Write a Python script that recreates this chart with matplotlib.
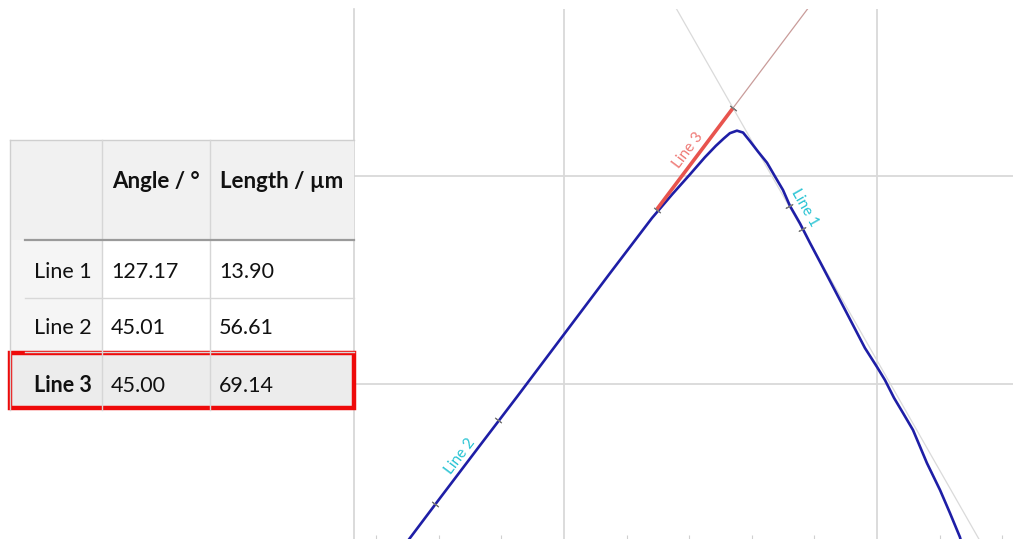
import numpy as np
import matplotlib
matplotlib.use("Agg")
import matplotlib.pyplot as plt
from matplotlib.patches import Rectangle

# ---- measurement table ----
line_names = ["Line 1", "Line 2", "Line 3"]
angles_deg = [127.17, 45.01, 45.00]
lengths_um = [13.90, 56.61, 69.14]
col_headers = ["Angle / °", "Length / µm"]

# ---- profile (x, z in µm) ----
profile_x = [299.0, 320.8, 346.3, 370.0, 400.0, 429.4, 456.2, 469.0, 480.5, 490.0,
             497.0, 502.0, 506.0, 510.5, 514.4, 518.8, 524.0, 529.7, 534.8, 539.9,
             544.4, 550.8, 557.2, 563.6, 573.2, 582.7, 592.3, 600.0, 605.1, 610.9,
             616.6, 623.0, 631.9, 640.3, 646.6, 653.0, 654.3]
profile_z = [23.4, 45.2, 70.5, 93.9, 123.9, 153.3, 179.8, 191.1, 200.8, 209.0,
             214.5, 218.0, 220.6, 221.8, 220.9, 216.8, 211.7, 206.4, 199.8, 193.3,
             185.6, 177.2, 167.8, 158.7, 144.9, 131.2, 117.3, 108.2, 101.9, 93.3,
             86.1, 77.9, 62.0, 49.0, 38.0, 26.4, 22.6]

# intersection point of the fitted lines and where each fitted segment starts
vertex = (508.0, 232.7)
segment_start = [59.2, 212.4, 0.0]   # distance from vertex along the line, µm

grid_x = [400, 600]
grid_z = [100, 200]
minor_x = [280, 320, 360, 440, 480, 520, 560, 640, 680]

W, H = 1013, 539
fig = plt.figure(figsize=(W / 100, H / 100), dpi=100)
fig.patch.set_facecolor("white")

# ---------------- profile panel ----------------
ax = fig.add_axes([354 / W, 0, (W - 354) / W, (H - 9) / H])
ax.set_xlim(265.8, 686.9)
ax.set_ylim(25.5, 280.3)
ax.set_facecolor("white")
for s in ["top", "right", "bottom"]:
    ax.spines[s].set_visible(False)
ax.spines["left"].set_color("#d4d4d4")
ax.spines["left"].set_linewidth(1.2)
ax.set_xticks(grid_x)
ax.set_yticks(grid_z)
ax.set_xticks(minor_x, minor=True)
ax.tick_params(which="major", length=0, labelbottom=False, labelleft=False)
ax.tick_params(which="minor", axis="x", direction="in", length=3, color="#d0d0d0", width=0.8)
ax.grid(True, which="major", color="#d9d9d9", linewidth=1.3)
ax.set_axisbelow(True)

fig.canvas.draw()


def disp_angle(theta):
    d = np.array([np.cos(np.radians(theta)), np.sin(np.radians(theta))])
    p0 = ax.transData.transform(vertex)
    p1 = ax.transData.transform(np.array(vertex) + d)
    return np.degrees(np.arctan2(p1[1] - p0[1], p1[0] - p0[0]))


def along(theta, s):
    d = np.array([np.cos(np.radians(theta)), np.sin(np.radians(theta))])
    return np.array(vertex) - s * d


# extended fitted lines
p = np.array([along(angles_deg[0], s) for s in [-200, 400]])
ax.plot(p[:, 0], p[:, 1], color="#dadada", lw=0.9, zorder=2)
p = np.array([along(angles_deg[2], s) for s in [-200, 0]])
ax.plot(p[:, 0], p[:, 1], color="#c99c9a", lw=0.9, zorder=2)

# measured profile
ax.plot(profile_x, profile_z, color="#1e1ea6", lw=1.9, zorder=3,
        solid_joinstyle="round", solid_capstyle="round")

# fitted segments with end ticks
seg_colors = [None, None, "#e8544e"]
for i in range(3):
    a = angles_deg[i]
    s0 = segment_start[i]
    s1 = s0 + lengths_um[i]
    q = np.array([along(a, s0), along(a, s1)])
    if seg_colors[i]:
        ax.plot(q[:, 0], q[:, 1], color=seg_colors[i], lw=2.6, zorder=4,
                solid_capstyle="butt")
    rot = disp_angle(a)
    for pt in q:
        ax.plot(pt[0], pt[1], marker=(2, 2, rot), ms=6, mew=0.8,
                color="#7a7a7a", zorder=5)

label_pos = [(553.5, 184.6), (333.5, 65.4), (479.2, 212.5)]
label_colors = ["#27c3d3", "#27c3d3", "#ef7a76"]
for i in range(3):
    rot = disp_angle(angles_deg[i])
    if rot > 90:
        rot -= 180
    if rot < -90:
        rot += 180
    ax.text(label_pos[i][0], label_pos[i][1], line_names[i], color=label_colors[i],
            fontsize=11, rotation=rot, rotation_mode="anchor",
            ha="center", va="center", zorder=6, family=["Lato", "DejaVu Sans"])

# ---------------- table ----------------
tb = fig.add_axes([0, 0, 1, 1], zorder=5)
tb.set_xlim(0, W)
tb.set_ylim(H, 0)
tb.axis("off")
tb.patch.set_alpha(0)

x0, x1, x2, x3 = 10, 102, 210, 354
row_edges = [140, 240, 298, 352, 410]
fam = ["Lato", "DejaVu Sans"]

# header row and row-header column backgrounds
tb.add_patch(Rectangle((x0, row_edges[0]), x3 - x0, row_edges[1] - row_edges[0],
                       facecolor="#f1f1f1", edgecolor="none"))
tb.add_patch(Rectangle((x0, row_edges[1]), x1 - x0, row_edges[4] - row_edges[1],
                       facecolor="#f5f5f5", edgecolor="none"))
tb.add_patch(Rectangle((x0, row_edges[3]), x3 - x0, row_edges[4] - row_edges[3],
                       facecolor="#ececec", edgecolor="none"))

# frame and dividers
tb.plot([x0, x3], [row_edges[0]] * 2, color="#cfcfcf", lw=1.0)
tb.plot([x0, x0], [row_edges[0], row_edges[4]], color="#cfcfcf", lw=1.0)
for xv in [x1, x2]:
    tb.plot([xv, xv], [row_edges[0], row_edges[4]], color="#d6d6d6", lw=1.0)
tb.plot([25, x3], [row_edges[1]] * 2, color="#9a9a9a", lw=1.6)
for yv in row_edges[2:4]:
    tb.plot([25, x3], [yv, yv], color="#d8d8d8", lw=1.0)

# text
fs = 15.5
tb.text(112, 182, col_headers[0], fontsize=fs + 0.5, fontweight="bold",
        ha="left", va="center", color="#111111", family=fam)
tb.text(220, 182, col_headers[1], fontsize=fs + 0.5, fontweight="bold",
        ha="left", va="center", color="#111111", family=fam)
row_centers = [272, 328, 386]
for i in range(3):
    bold = "bold" if i == 2 else "normal"
    tb.text(34, row_centers[i], line_names[i], fontsize=fs, fontweight=bold,
            ha="left", va="center", color="#111111", family=fam)
    tb.text(111, row_centers[i], f"{angles_deg[i]:.2f}", fontsize=fs,
            ha="left", va="center", color="#111111", family=fam)
    tb.text(219, row_centers[i], f"{lengths_um[i]:.2f}", fontsize=fs,
            ha="left", va="center", color="#111111", family=fam)

# selection highlight
tb.add_patch(Rectangle((10, 353), 344, 55, facecolor="none",
                       edgecolor="#ee0a0a", lw=3.2))

fig.savefig("out.png", dpi=100, facecolor="white")
